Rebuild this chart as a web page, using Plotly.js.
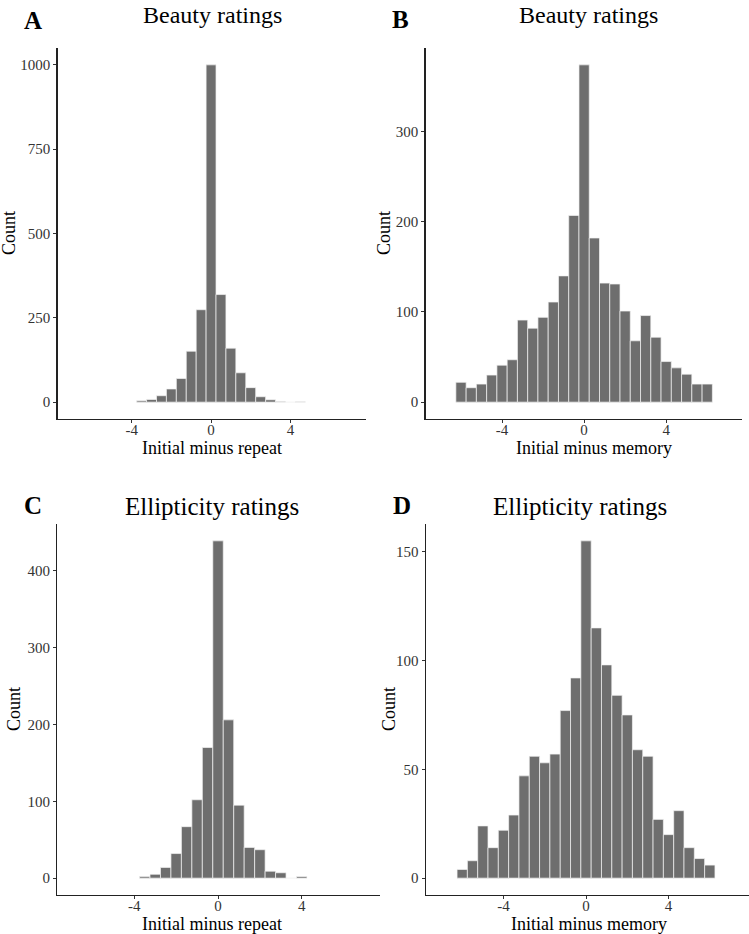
<!DOCTYPE html>
<html>
<head>
<meta charset="utf-8">
<script src="https://cdn.plot.ly/plotly-3.0.1.min.js"></script>
<style>
  body { margin: 0; background: #fff; }
  #graph1 { width: 749px; height: 934px; }
</style>
</head>
<body>
<div id="graph1"></div>
<script>
// bin centres (width 0.5) and counts
var binsA = [-3.5, -3, -2.5, -2, -1.5, -1, -0.5, 0, 0.5, 1, 1.5, 2, 2.5, 3, 3.5, 4, 4.5];
var countsA = [4, 8, 19, 39, 70, 151, 274, 1000, 319, 160, 87, 43, 16, 7, 2, 0, 1];

var binsB = [-6, -5.5, -5, -4.5, -4, -3.5, -3, -2.5, -2, -1.5, -1, -0.5, 0, 0.5, 1, 1.5, 2, 2.5, 3, 3.5, 4, 4.5, 5, 5.5, 6];
var countsB = [22, 16, 20, 30, 41, 47, 91, 82, 94, 111, 140, 207, 374, 182, 132, 131, 101, 68, 96, 72, 45, 38, 31, 20, 20];

var binsC = [-3.5, -3, -2.5, -2, -1.5, -1, -0.5, 0, 0.5, 1, 1.5, 2, 2.5, 3, 3.5, 4];
var countsC = [2, 5, 14, 32, 67, 102, 170, 439, 206, 95, 40, 37, 9, 7, 0, 2];

var binsD = [-6, -5.5, -5, -4.5, -4, -3.5, -3, -2.5, -2, -1.5, -1, -0.5, 0, 0.5, 1, 1.5, 2, 2.5, 3, 3.5, 4, 4.5, 5, 5.5, 6];
var countsD = [4, 8, 24, 14, 22, 29, 47, 56, 53, 57, 77, 92, 155, 115, 98, 84, 75, 59, 56, 27, 20, 31, 14, 9, 6];

var xTicks = [-4, 0, 4];
var xTickText = ['-4', '0', '4'];
var yTicksA = [0, 250, 500, 750, 1000];
var yTicksB = [0, 100, 200, 300];
var yTicksC = [0, 100, 200, 300, 400];
var yTicksD = [0, 50, 100, 150];

var panelLetters = ['A', 'B', 'C', 'D'];
var panelTitles = ['Beauty ratings', 'Beauty ratings', 'Ellipticity ratings', 'Ellipticity ratings'];
var xTitles = ['Initial minus repeat', 'Initial minus memory', 'Initial minus repeat', 'Initial minus memory'];

var W = 749, H = 934;
var serif = 'Liberation Serif, Times New Roman, serif';

function px(x) { return x / W; }
function py(y) { return 1 - y / H; }

function makeBar(bins, counts, xa, ya) {
  return {
    type: 'bar',
    x: bins,
    y: counts,
    width: 0.5,
    xaxis: xa,
    yaxis: ya,
    marker: { color: '#6e6e6e', line: { color: '#f4f4f4', width: 0.7 } },
    hoverinfo: 'x+y'
  };
}

function xAxis(domain, range, anchor) {
  return {
    domain: domain, range: range, anchor: anchor,
    showline: true, linecolor: '#222', linewidth: 1.2,
    ticks: 'outside', ticklen: 3, tickwidth: 1, tickcolor: '#333',
    tickvals: xTicks, ticktext: xTickText, ticklabelstandoff: -6,
    tickfont: { family: serif, size: 15, color: '#333' },
    showgrid: false, zeroline: false, fixedrange: true
  };
}

function yAxis(domain, range, anchor, ticks) {
  return {
    domain: domain, range: range, anchor: anchor,
    showline: true, linecolor: '#222', linewidth: 1.2,
    ticks: 'outside', ticklen: 3, tickwidth: 1, tickcolor: '#333',
    tickvals: ticks, ticktext: ticks.map(String),
    tickfont: { family: serif, size: 15, color: '#333' },
    showgrid: false, zeroline: false, fixedrange: true
  };
}

function label(text, x, y, size, bold, angle, anchor) {
  return {
    text: bold ? '<b>' + text + '</b>' : text,
    x: px(x), y: py(y), xref: 'paper', yref: 'paper',
    xanchor: 'center', yanchor: anchor || 'middle',
    showarrow: false, textangle: angle || 0,
    font: { family: serif, size: size, color: '#000' }
  };
}

function graph() {
  var topRow = [py(419), py(48)];
  var botRow = [py(895), py(524)];

  var data = [
    makeBar(binsA, countsA, 'x', 'y'),
    makeBar(binsB, countsB, 'x2', 'y2'),
    makeBar(binsC, countsC, 'x3', 'y3'),
    makeBar(binsD, countsD, 'x4', 'y4')
  ];

  // pixel spots of the texts around each panel
  var letterPos = [[33, 20], [400, 19], [33, 505], [402, 505]];
  var countPos = [[9, 233], [384, 233], [14, 709], [389, 709]];
  var xTitlePos = [[212, 448], [594, 448], [212, 924], [589, 924]];

  var annotations = [];
  for (var i = 0; i < 4; i++) {
    annotations.push(label(panelLetters[i], letterPos[i][0], letterPos[i][1], 25, true));
    annotations.push(label(xTitles[i], xTitlePos[i][0], xTitlePos[i][1], 18, false));
    annotations.push(label('Count', countPos[i][0], countPos[i][1], 18, false, -90));
  }
  // top titles hang from the upper edge, lower ones sit above their panels
  annotations.push(label(panelTitles[0], 212, 0, 24, false, 0, 'top'));
  annotations.push(label(panelTitles[1], 588, 0, 24, false, 0, 'top'));
  annotations.push(label(panelTitles[2], 212, 506, 25, false));
  annotations.push(label(panelTitles[3], 580, 506, 25, false));

  var layout = {
    width: W, height: H,
    margin: { l: 0, r: 0, t: 0, b: 0, pad: 0 },
    paper_bgcolor: '#fff', plot_bgcolor: '#fff',
    showlegend: false, bargap: 0,
    font: { family: serif, color: '#000' },
    xaxis: xAxis([px(57.5), px(366)], [-7.74, 7.81], 'y'),
    yaxis: yAxis(topRow, [-50, 1050], 'x', yTicksA),
    xaxis2: xAxis([px(425.5), px(741.7)], [-7.73, 7.68], 'y2'),
    yaxis2: yAxis(topRow, [-18.7, 392.7], 'x2', yTicksB),
    xaxis3: xAxis([px(57.3), px(380)], [-7.68, 7.74], 'y3'),
    yaxis3: yAxis(botRow, [-21.95, 460.95], 'x3', yTicksC),
    xaxis4: xAxis([px(425.7), 1], [-7.77, 7.9], 'y4'),
    yaxis4: yAxis(botRow, [-7.75, 162.75], 'x4', yTicksD),
    annotations: annotations
  };

  Plotly.newPlot('graph1', data, layout, { displayModeBar: false, staticPlot: true });
}

window.onload = function() {
  graph();
};
</script>
</body>
</html>
